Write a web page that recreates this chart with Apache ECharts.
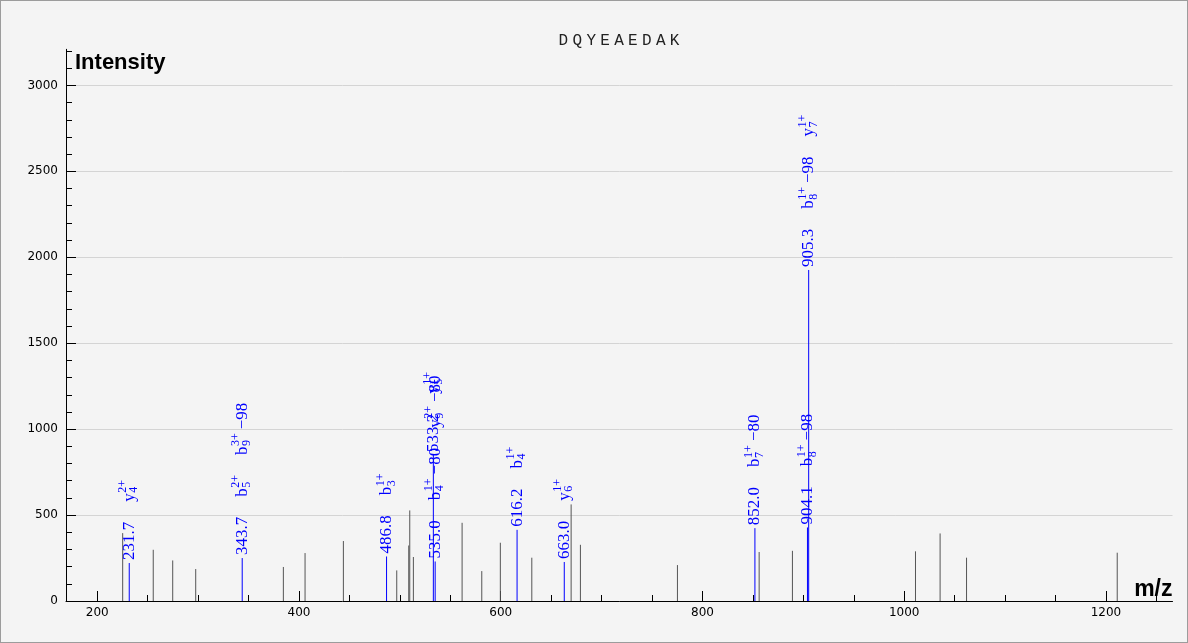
<!DOCTYPE html>
<html>
<head>
<meta charset="utf-8">
<script src="https://cdn.jsdelivr.net/npm/echarts@6/dist/echarts.min.js"></script>
<style>
html,body{margin:0;padding:0;background:#f4f4f4;}
#wrap{position:relative;width:1188px;height:643px;}
#c{width:1188px;height:643px;}
#frame{position:absolute;left:0;top:0;width:1188px;height:643px;box-sizing:border-box;border:1px solid #9c9c9c;pointer-events:none;}
</style>
</head>
<body>
<div id="wrap"><div id="c"></div><div id="frame"></div></div>
<script>
// ---- data ----
const titleText = 'DQYEAEDAK';
const peakMz  = [225.2, 255.5, 274.8, 297.6, 384.5, 406.0, 444.0, 496.9, 508.8, 509.8, 513.4, 561.7, 581.2, 599.6, 630.8, 669.8, 679.0, 775.2, 856.2, 889.2, 1011.2, 1035.6, 1061.8, 1211.2];
const peakInt = [395, 298, 236, 186, 198, 279, 349, 178, 323, 527, 256, 455, 174, 339, 252, 562, 327, 209, 285, 292, 289, 393, 252, 281];
const annMz  = [231.7, 343.7, 486.8, 535.0, 533.2, 616.2, 663.0, 852.0, 904.1, 905.3];
const annInt = [221, 250, 259, 230, 850, 414, 227, 424, 428, 1926];
const annLabels = [
  ['231.7', 'y_4^2+'],
  ['343.7', 'b_5^2+', 'b_9^3+−98'],
  ['486.8', 'b_3^1+'],
  ['535.0', 'b_4^1+−80', 'y_9^2+−80'],
  ['533.2', 'y_5^1+'],
  ['616.2', 'b_4^1+'],
  ['663.0', 'y_6^1+'],
  ['852.0', 'b_7^1+−80'],
  ['904.1', 'b_8^1+−98'],
  ['905.3', 'b_8^1+−98', 'y_7^1+']
];
const xMajorTicks = [200, 400, 600, 800, 1000, 1200];
const xMinorTicks = [250, 300, 350, 450, 500, 550, 650, 700, 750, 850, 900, 950, 1050, 1100, 1150, 1250];
const yMajorTicks = [0, 500, 1000, 1500, 2000, 2500, 3000];
const yMinorTicks = [100, 200, 300, 400, 600, 700, 800, 900, 1100, 1200, 1300, 1400, 1600, 1700, 1800, 1900, 2100, 2200, 2300, 2400, 2600, 2700, 2800, 2900, 3100, 3200];
const xMin = 169, xMax = 1266, yMin = 0, yMax = 3210;

// ---- label helpers ----
const BLUE = '#0000ff';
const MAIN = 17, SMALL = 12;
const SERIF = '"Liberation Serif", "Times New Roman", serif';
const mctx = document.createElement('canvas').getContext('2d');
function tw(t, size) { mctx.font = size + 'px ' + SERIF; return mctx.measureText(t).width; }
function txt(t, x, y, size, align) {
  return { type: 'text', x: x, y: y, style: { text: t, fill: BLUE, font: size + 'px ' + SERIF, align: align || 'left', verticalAlign: 'middle' } };
}
function buildLabel(s) {
  const m = s.match(/^([a-zA-Z])_(\d+)\^(\d+[+-])(.*)$/);
  if (!m) {
    return { len: tw(s, MAIN), children: [txt(s, 0, 0, MAIN)] };
  }
  const wMain = tw(m[1], MAIN);
  const wSub = tw(m[2], SMALL), wSup = tw(m[3], SMALL);
  const wSS = Math.max(wSub, wSup);
  const ch = [txt(m[1], 0, 0, MAIN), txt(m[3], wMain + 0.5, -6, SMALL), txt(m[2], wMain + 0.5, 5, SMALL)];
  let len = wMain + 0.5 + wSS;
  if (m[4]) { ch.push(txt(m[4], len + 4, 0, MAIN)); len += 4 + tw(m[4], MAIN); }
  return { len: len, children: ch };
}
const plain = v => String(v);
const titleRich = titleText.split('').map(c => '{c|' + c + '}').join('');

const chart = echarts.init(document.getElementById('c'));
const option = {
  backgroundColor: '#f4f4f4',
  animation: false,
  title: {
    text: titleRich, left: 614, top: 28, textAlign: 'center',
    textStyle: {
      fontFamily: '"Liberation Mono", monospace', fontSize: 16, fontWeight: 'normal', color: '#222',
      rich: { c: { width: 13.9, align: 'center', fontFamily: '"Liberation Mono", monospace', fontSize: 16, color: '#222' } }
    }
  },
  grid: { left: 66, right: 15.5, top: 49.3, bottom: 42 },
  xAxis: [{
    type: 'value', min: xMin, max: xMax, position: 'bottom',
    name: 'm/z', nameLocation: 'end', nameGap: 0,
    nameTextStyle: { fontFamily: '"Liberation Sans", Arial, sans-serif', fontWeight: 'bold', fontSize: 23, color: '#000', align: 'right', verticalAlign: 'bottom' },
    axisLine: { show: true, onZero: false, lineStyle: { color: '#000', width: 1 } },
    axisTick: { show: true, inside: true, length: 10, customValues: xMajorTicks, lineStyle: { color: '#000' } },
    axisLabel: { customValues: xMajorTicks, formatter: plain, color: '#000', fontSize: 12, margin: 6, fontFamily: '"DejaVu Sans", sans-serif' },
    splitLine: { show: false }
  }, {
    type: 'value', min: xMin, max: xMax, position: 'bottom',
    axisLine: { show: false },
    axisTick: { show: true, inside: true, length: 6, customValues: xMinorTicks, lineStyle: { color: '#000' } },
    axisLabel: { show: false }, splitLine: { show: false }
  }],
  yAxis: [{
    type: 'value', min: yMin, max: yMax, interval: 500,
    name: 'Intensity', nameLocation: 'end', nameGap: -14,
    nameTextStyle: { fontFamily: '"Liberation Sans", Arial, sans-serif', fontWeight: 'bold', fontSize: 22, color: '#000', align: 'left', verticalAlign: 'middle', padding: [0, 0, 0, 9] },
    axisLine: { show: true, onZero: false, lineStyle: { color: '#000', width: 1 } },
    axisTick: { show: true, inside: true, length: 10, customValues: yMajorTicks, lineStyle: { color: '#000' } },
    axisLabel: { customValues: yMajorTicks, formatter: plain, color: '#000', fontSize: 12, margin: 8, fontFamily: '"DejaVu Sans", sans-serif' },
    splitLine: { show: true, lineStyle: { color: '#d4d4d4', width: 1 } }
  }, {
    type: 'value', min: yMin, max: yMax, position: 'left',
    axisLine: { show: false },
    axisTick: { show: true, inside: true, length: 6, customValues: yMinorTicks, lineStyle: { color: '#000' } },
    axisLabel: { show: false }, splitLine: { show: false }
  }],
  series: [{
    type: 'custom',
    name: 'peaks',
    data: peakMz.map((m, i) => [m, peakInt[i]]),
    encode: { x: 0, y: 1 },
    renderItem: function (params, api) {
      const p0 = api.coord([api.value(0), 0]);
      const p1 = api.coord([api.value(0), api.value(1)]);
      return { type: 'line', shape: { x1: p0[0], y1: p0[1], x2: p1[0], y2: p1[1] }, style: { stroke: '#555', lineWidth: 1 } };
    }
  }, {
    type: 'custom',
    name: 'annotated',
    data: annMz.map((m, i) => [m, annInt[i], i]),
    encode: { x: 0, y: 1 },
    renderItem: function (params, api) {
      const idx = api.value(2);
      const p0 = api.coord([api.value(0), 0]);
      const p1 = api.coord([api.value(0), api.value(1)]);
      const children = [{ type: 'line', shape: { x1: p0[0], y1: p0[1], x2: p1[0], y2: p1[1] }, style: { stroke: BLUE, lineWidth: 1 } }];
      let s = p1[1] - 3;
      annLabels[idx].forEach(function (lab) {
        const b = buildLabel(lab);
        children.push({ type: 'group', x: p1[0], y: s, rotation: Math.PI / 2, children: b.children });
        s -= b.len + 20;
      });
      return { type: 'group', children: children };
    }
  }]
};
chart.setOption(option);
</script>
</body>
</html>
